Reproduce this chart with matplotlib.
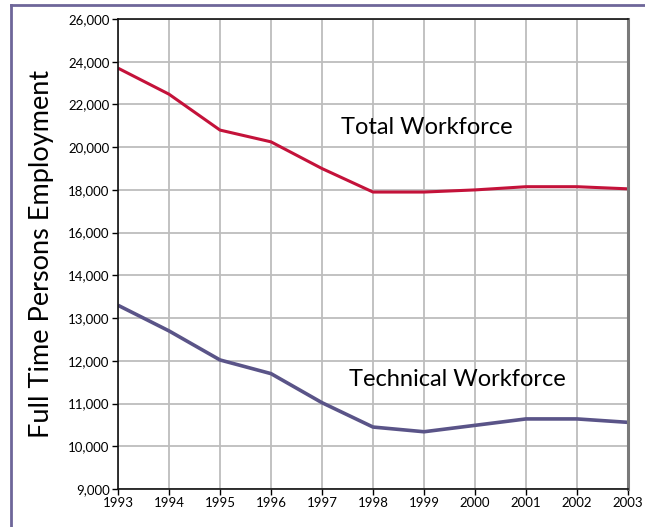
import numpy as np
import matplotlib.pyplot as plt
from matplotlib.lines import Line2D

years = [1993, 1994, 1995, 1996, 1997, 1998, 1999, 2000, 2001, 2002, 2003]
total = [23700, 22480, 20800, 20250, 19000, 17900, 17900, 18000, 18150, 18150, 18050]
technical = [13300, 12700, 12020, 11700, 11020, 10450, 10340, 10490, 10640, 10640, 10560]
y_ticks = [9000, 10000, 11000, 12000, 13000, 14000, 16000, 18000, 20000, 22000, 24000, 26000]
tick_idx = np.arange(len(y_ticks), dtype=float)


# the y axis puts every tick at the same spacing, so map values piecewise
def forward(v):
    return np.interp(v, y_ticks, tick_idx)


def inverse(p):
    return np.interp(p, tick_idx, y_ticks)


plt.rcParams["font.family"] = ["Lato", "DejaVu Sans"]

fig = plt.figure(figsize=(6.45, 5.27), dpi=100)
ax = fig.add_axes([118 / 645, 1 - 489 / 527, 510 / 645, 470 / 527])
ax.set_yscale("function", functions=(forward, inverse))

ax.plot(years, total, color="#C4123A", linewidth=2.2, solid_capstyle="butt")
ax.plot(years, technical, color="#5A5488", linewidth=2.6, solid_capstyle="butt")

ax.set_xlim(1993, 2003)
ax.set_ylim(9000, 26000)
ax.set_xticks(years)
ax.set_yticks(y_ticks)
ax.set_yticklabels([f"{v:,}" for v in y_ticks])
ax.tick_params(axis="both", labelsize=9.5, length=4, width=1, pad=2)
ax.grid(True, color="#BDBDBD", linewidth=1.3)
ax.set_axisbelow(True)

for side in ("left", "bottom", "top"):
    ax.spines[side].set_color("#111111")
    ax.spines[side].set_linewidth(1.2)
ax.spines["right"].set_color("#7A7A7A")
ax.spines["right"].set_linewidth(2.2)

ax.set_ylabel("Full Time Persons Employment", fontsize=19.5, labelpad=10)
ax.text(1999.06, 20940, "Total Workforce", fontsize=17, ha="center", va="center")
ax.text(1999.65, 11570, "Technical Workforce", fontsize=17, ha="center", va="center")

# frame around the figure (only top and left visible)
fig.add_artist(Line2D([11 / 645, 11 / 645], [0, 1 - 5 / 527], color="#6E6699",
                      linewidth=2, transform=fig.transFigure))
fig.add_artist(Line2D([11 / 645, 1], [1 - 5 / 527, 1 - 5 / 527], color="#6E6699",
                      linewidth=2, transform=fig.transFigure))

fig.savefig("out.png", dpi=100)
